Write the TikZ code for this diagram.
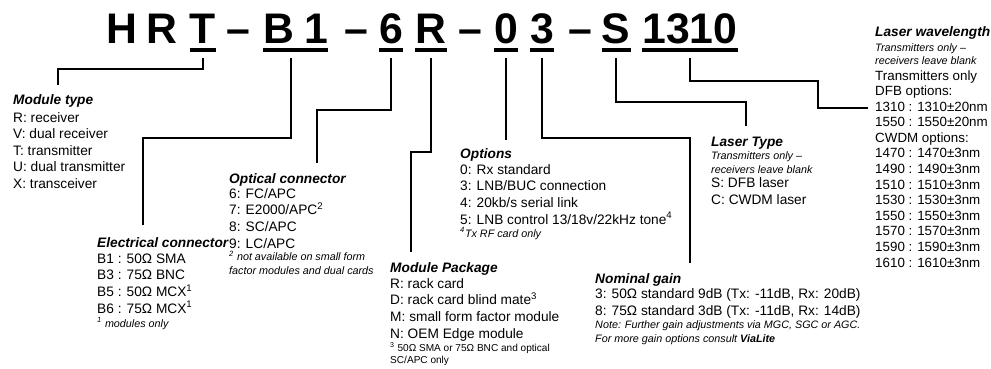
\documentclass[tikz,border=0pt]{standalone}
\usepackage{fontspec}
\setmainfont{Liberation Sans}
\usetikzlibrary{positioning}
\tikzset{
  code/.style={inner sep=0pt, anchor=base, font=\fontsize{36.5}{42}\selectfont\bfseries},
  ubar/.style={line width=2.8pt},
  lead/.style={line width=1pt, shorten >=8.5pt},
  hdr/.style={inner sep=0pt, anchor=base west, font=\fontsize{11.7}{14.2}\selectfont\bfseries\itshape},
  body/.style={inner sep=0pt, anchor=base west, align=left, font=\fontsize{11.7}{14.2}\selectfont},
  note/.style={inner sep=0pt, anchor=base west, align=left, font=\fontsize{9.2}{11.1}\selectfont\itshape},
}
\begin{document}
\begin{tikzpicture}[x=0.03cm, y=-0.03cm]
  \useasboundingbox (0,0) rectangle (991,369);
  % part number
  \node[code] (cH) at (122,44) {H};
  \node[code] (cR) at (162,44) {R};
  \node[code] (cT) at (203,44) {T};
  \node[code] (d1) at (238,44) {–};
  \node[code] (cB) at (279,44) {B};
  \node[code] (c1) at (316,44) {1};
  \node[code] (d2) at (356,44) {–};
  \node[code] (c6) at (391,44) {6};
  \node[code] (cR2) at (431,44) {R};
  \node[code] (d3) at (470,44) {–};
  \node[code] (c0) at (506,44) {0};
  \node[code] (c3) at (542,44) {3};
  \node[code] (d4) at (580,44) {–};
  \node[code] (cS) at (616,44) {S};
  \node[code] (cW) at (690,44) {1310};
  \foreach \a/\b in {cT/cT, cB/c1, c6/c6, cR2/cR2, c0/c0, c3/c3, cS/cS, cW/cW}
    \draw[ubar] ([yshift=-5.2pt]\a.base west) -- ([yshift=-5.2pt]\b.base east);

  % module type (multi-line nodes sit on their last baseline)
  \node[hdr] (hType) at (13,105) {Module type};
  \node[body] (bType) at (13,188.6) {R: receiver\\V: dual receiver\\T: transmitter\\U: dual transmitter\\X: transceiver};

  % electrical connector
  \node[hdr] (hElec) at (97,247) {Electrical connector};
  \node[body] (bElec) at (97,313) {B1 : 50Ω SMA\\B3 : 75Ω BNC\\B5 : 50Ω MCX\textsuperscript{1}\\B6 : 75Ω MCX\textsuperscript{1}};
  \node[note] (nElec) at (97,327) {\textsuperscript{1} modules only};

  % optical connector
  \node[hdr] (hOpt) at (229,183) {Optical connector};
  \node[body] (bOpt) at (229,248) {6: FC/APC\\7: E2000/APC\textsuperscript{2}\\8: SC/APC\\9: LC/APC};
  \node[note] (nOpt) at (229,274) {\textsuperscript{2} not available on small form\\factor modules and dual cards};

  % module package
  \node[hdr] (hPkg) at (390,272) {Module Package};
  \node[body] (bPkg) at (390,338) {R: rack card\\D: rack card blind mate\textsuperscript{3}\\M: small form factor module\\N: OEM Edge module};
  \node[note, font=\fontsize{8.6}{9.8}\selectfont] (nPkg) at (390,363) {\textsuperscript{3} 50Ω SMA or 75Ω BNC and optical\\SC/APC only};

  % options
  \node[hdr] (hOps) at (460,158) {Options};
  \node[body] (bOps) at (460,224) {0: Rx standard\\3: LNB/BUC connection\\4: 20kb/s serial link\\5: LNB control 13/18v/22kHz tone\textsuperscript{4}};
  \node[note] (nOps) at (460,237) {\textsuperscript{4}Tx RF card only};

  % nominal gain
  \node[hdr] (hGain) at (595,283) {Nominal gain};
  \node[body] (bGain) at (595,315.6) {3: 50Ω standard 9dB (Tx: -11dB, Rx: 20dB)\\8: 75Ω standard 3dB (Tx: -11dB, Rx: 14dB)};
  \node[note] (nGain) at (595,342) {Note: Further gain adjustments via MGC, SGC or AGC.\\For more gain options consult \textbf{ViaLite}};

  % laser type
  \node[hdr] (hLas) at (711,146) {Laser Type};
  \node[note] (nLas) at (711,173) {Transmitters only –\\receivers leave blank};
  \node[body] (bLas) at (711,204.6) {S: DFB laser\\C: CWDM laser};

  % laser wavelength
  \node[hdr] (hWave) at (875,37) {Laser wavelength};
  \node[note] (nWave) at (875,65) {Transmitters only –\\receivers leave blank};
  \node[body, font=\fontsize{11.4}{13.3}\selectfont] (bWave) at (875,267) {Transmitters only\\DFB options:\\1310 : 1310±20nm\\1550 : 1550±20nm\\CWDM options:\\1470 : 1470±3nm\\1490 : 1490±3nm\\1510 : 1510±3nm\\1530 : 1530±3nm\\1550 : 1550±3nm\\1570 : 1570±3nm\\1590 : 1590±3nm\\1610 : 1610±3nm};

  % connectors
  \coordinate (kT) at (58,69);
  \coordinate (kB) at (143,138);
  \coordinate (k6) at (317,110);
  \coordinate (kR) at (411,152);
  \coordinate (k3) at (690,138);
  \coordinate (kS) at (746,102);
  \coordinate (kW1) at (818,81);
  \coordinate (kW2) at (818,108);
  \draw[lead] ([yshift=-12pt]cT.base) |- (kT) -- (kT |- hType.north);
  \draw[lead, shorten >=10pt] ([xshift=10.2pt,yshift=-12pt]cB.base) |- (kB) -- (kB |- hElec.north);
  \draw[lead] ([yshift=-12pt]c6.base) |- (k6) -- (k6 |- hOpt.north);
  \draw[lead] ([yshift=-12pt]cR2.base) |- (kR) -- (kR |- hPkg.north);
  \draw[lead, shorten >=7pt] ([yshift=-12pt]c0.base) -- (c0 |- hOps.north);
  \draw[lead] ([yshift=-12pt]c3.base) |- (k3) -- (k3 |- hGain.north);
  \draw[lead] ([yshift=-12pt]cS.base) |- (kS) -- (kS |- hLas.north);
  \draw[lead, shorten >=6pt] ([yshift=-12pt]cW.base) |- (kW1) |- (kW2 -| bWave.west);
\end{tikzpicture}
\end{document}
